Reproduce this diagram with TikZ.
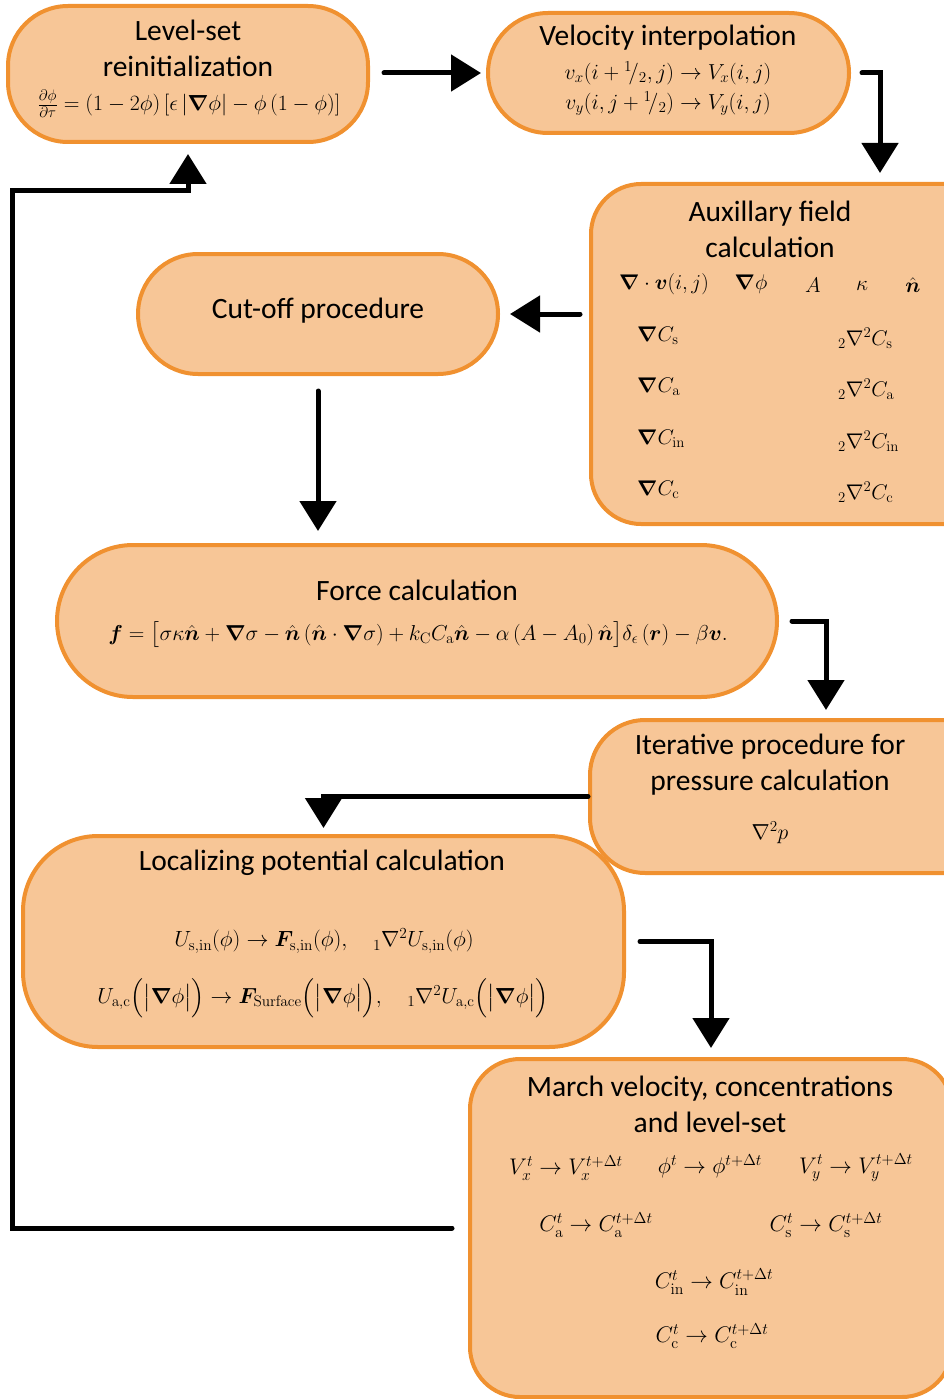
\RequirePackage{fix-cm}
\documentclass[tikz,border=0pt]{standalone}
\usepackage{amsmath}
\usepackage{amssymb}
\usepackage{bm}
\usepackage[no-math]{fontspec}
\setmainfont{Carlito}
\usetikzlibrary{arrows.meta,positioning}
\definecolor{boxorange}{RGB}{240,145,48}
\definecolor{boxfill}{RGB}{247,198,151}

\begin{document}
\begin{tikzpicture}[x=1pt,y=-1pt,
	stage/.style={draw=boxorange,fill=boxfill,line width=4pt,inner sep=0pt,rounded corners=#1},
	title/.style={font=\fontsize{29.5}{36}\selectfont,align=center,inner sep=0pt},
	eq/.style={font=\fontsize{#1}{26}\selectfont,inner sep=0pt},
	eq/.default=21.7,
	flow/.style={line width=5pt,line cap=round,-{Triangle[length=30pt,width=36pt]}}]
		\useasboundingbox (0,0) rectangle (944,1399);
		\clip (0,0) rectangle (944,1399);
		
		% stages
		\node[stage=60,minimum width=360,minimum height=136] (Levelset) at (188,74) {};
		\node[stage=60,minimum width=361,minimum height=120] (Velocity) at (668.5,73) {};
		\node[stage=50,minimum width=578,minimum height=340] (Auxillary) at (880,354) {};
		\node[stage=60,minimum width=360,minimum height=120] (Cutoff) at (318,314) {};
		\node[stage=76,minimum width=720,minimum height=152] (Force) at (417,621) {};
		\node[stage=55,minimum width=472,minimum height=153] (Pressure) at (826,796.5) {};
		\node[stage=75,minimum width=601,minimum height=211] (Localizing) at (323.5,941.5) {};
		\node[stage=50,minimum width=482,minimum height=338] (March) at (711,1228) {};
		
		% level-set reinitialization
		\node[title] (LevelsetT) at (188,48) {Level-set\\reinitialization};
		\node[eq=21.8] (LevelsetE) at (189,104) {$\frac{\partial\phi}{\partial\tau}=\left(1-2\phi\right)\left[\epsilon\left|\bm{\nabla}\phi\right|-\phi\left(1-\phi\right)\right]$};
		
		% velocity interpolation
		\node[title] (VelocityT) at (668,38) {Velocity interpolation};
		\node[eq] (VelocityX) at (668,73) {$v_x(i+{}^{1}\!/{}_{2},j)\rightarrow V_x(i,j)$};
		\node[eq] (VelocityY) at (668,104) {$v_y(i,j+{}^{1}\!/{}_{2})\rightarrow V_y(i,j)$};
		
		% auxillary fields
		\node[title] (AuxillaryT) at (770,229) {Auxillary field\\calculation};
		\node[eq=21.2] (DivV) at (664,284) {$\bm{\nabla}\cdot\bm{v}(i,j)$};
		\node[eq=21.2] (GradPhi) at (751,284) {$\bm{\nabla}\phi$};
		\node[eq=21.2] (Area) at (813,285) {$A$};
		\node[eq=21.2] (Kappa) at (862,286) {$\kappa$};
		\node[eq=21.2] (Normal) at (913,285) {$\hat{\bm{n}}$};
		\foreach \c/\y in {s/336,a/387,in/439,c/490} {
			\node[eq=21.2,anchor=west] (Grad\c) at (637,\y) {$\bm{\nabla}C_\mathrm{\c}$};
			\node[eq=21.2,anchor=west] (Lap\c) at (838,\y+2) {${}_2\nabla^2C_\mathrm{\c}$};
		}
		
		% cut-off
		\node[title] (CutoffT) at (318,311) {Cut-off procedure};
		
		% force
		\node[title] (ForceT) at (417,590) {Force calculation};
		\node[eq=21.6] (ForceE) at (418,635) {$\bm{f}=\bigl[\sigma\kappa\hat{\bm{n}}+\bm{\nabla}\sigma-\hat{\bm{n}}\left(\hat{\bm{n}}\cdot\bm{\nabla}\sigma\right)+k_\mathrm{C}C_\mathrm{a}\hat{\bm{n}}-\alpha\left(A-A_0\right)\hat{\bm{n}}\bigr]\delta_\epsilon\left(\bm{r}\right)-\beta\bm{v}.$};
		
		% pressure
		\node[title] (PressureT) at (770,765) {Iterative procedure for\\pressure calculation};
		\node[eq] (PressureE) at (770,833) {$\nabla^2p$};
		
		% localizing potentials
		\node[title] (LocalizingT) at (322,863) {Localizing potential calculation};
		\node[eq=22] (LocalizingS) at (324,941) {$U_\mathrm{s,in}(\phi)\rightarrow\bm{F}_\mathrm{s,in}(\phi),\quad{}_1\nabla^2U_\mathrm{s,in}(\phi)$};
		\node[eq=21.8] (LocalizingA) at (323,998) {$U_\mathrm{a,c}\Bigl(\bigl|\bm{\nabla}\phi\bigr|\Bigr)\rightarrow\bm{F}_\mathrm{Surface}\Bigl(\bigl|\bm{\nabla}\phi\bigr|\Bigr),\quad{}_1\nabla^2U_\mathrm{a,c}\Bigl(\bigl|\bm{\nabla}\phi\bigr|\Bigr)$};
		
		% march
		\node[title] (MarchT) at (710,1104) {March velocity, concentrations\\and level-set};
		\node[eq=22.6] (MarchVx) at (566,1168) {$V_x^t\rightarrow V_x^{t+\Delta t}$};
		\node[eq=22.6] (MarchPhi) at (710,1166) {$\phi^t\rightarrow\phi^{t+\Delta t}$};
		\node[eq=22.6] (MarchVy) at (856,1168) {$V_y^t\rightarrow V_y^{t+\Delta t}$};
		\node[eq=22.6] (MarchCa) at (596,1225) {$C_\mathrm{a}^t\rightarrow C_\mathrm{a}^{t+\Delta t}$};
		\node[eq=22.6] (MarchCs) at (826,1225) {$C_\mathrm{s}^t\rightarrow C_\mathrm{s}^{t+\Delta t}$};
		\node[eq=22.6] (MarchCin) at (714,1282) {$C_\mathrm{in}^t\rightarrow C_\mathrm{in}^{t+\Delta t}$};
		\node[eq=22.6] (MarchCc) at (712,1336) {$C_\mathrm{c}^t\rightarrow C_\mathrm{c}^{t+\Delta t}$};
		
		% flow
		\coordinate (Back) at (12,191);
		\draw[flow,shorten <=14pt,shorten >=5pt] (Levelset.east |- Velocity.west) -- (Velocity.west);
		\draw[flow,shorten <=11pt,shorten >=9pt] (Velocity.east) -| (Auxillary.north);
		\draw[flow,shorten <=9pt,shorten >=10pt] (Auxillary.west |- Cutoff.east) -- (Cutoff.east);
		\draw[flow,shorten <=15pt,shorten >=12pt] (Cutoff.south) -- (Cutoff.south |- Force.north);
		\draw[flow,shorten <=13pt,shorten >=8pt] (Force.east) -| (Pressure.north);
		\draw[flow,shorten >=6pt] (Pressure.west) -| (Localizing.north);
		\draw[flow,shorten <=14pt,shorten >=9pt] (Localizing.east) -| (March.north);
		\draw[flow,shorten <=16pt,shorten >=10pt] (March.west) -| (Back) -| (Levelset.south);
		
\end{tikzpicture}
\end{document}
